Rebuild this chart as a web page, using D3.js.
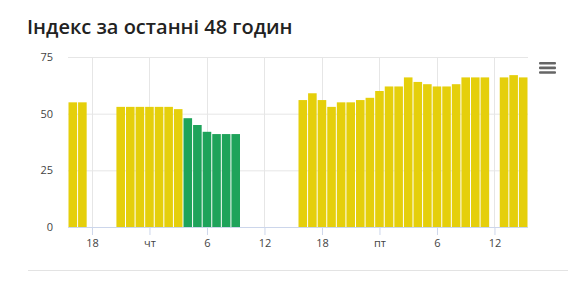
<!DOCTYPE html>
<html>
<head>
<meta charset="utf-8">
<script src="https://cdn.jsdelivr.net/npm/d3@7"></script>
<style>
  body { margin: 0; background: #fff; font-family: "Open Sans", sans-serif; }
  .title { font-weight: 600; font-size: 20px; fill: #222; }
  .tick text { font-family: "Open Sans", sans-serif; font-size: 11px; fill: #444; }
</style>
</head>
<body>
<div id="chart"></div>
<script>
// data
const startHour = new Date(2022, 0, 5, 16); // Wednesday 16:00, first bar
const values = [
  55, 55, null, null, null, 53, 53, 53, 53, 53, 53, 52,
  48, 45, 42, 41, 41, 41, null, null, null, null, null, null,
  56, 59, 56, 53, 55, 55, 56, 57, 60, 62, 62, 66,
  64, 63, 62, 62, 63, 66, 66, 66, null, 66, 67, 66
];
const yTicks = [0, 25, 50, 75];
const dayNames = ["нд", "пн", "вт", "ср", "чт", "пт", "сб"];
const threshold = 50;
const colors = { good: "#1ea35a", moderate: "#e5cf0b" };

//size
const width = 580;
const height = 289;
const margin = { top: 57, bottom: 62, left: 68, right: 52 };
const innerWidth = width - margin.left - margin.right;
const innerHeight = height - margin.top - margin.bottom;

const data = values.map((v, i) => ({
  time: d3.timeHour.offset(startHour, i),
  value: v,
}));

//scale
const xScale = d3
  .scaleTime()
  .domain([
    d3.timeMinute.offset(data[0].time, -30),
    d3.timeMinute.offset(data[data.length - 1].time, 30),
  ])
  .range([0, innerWidth]);

const slot = innerWidth / data.length;

const yScale = d3.scaleLinear().domain([0, 75]).range([innerHeight, 0]);

const svg = d3
  .select("#chart")
  .append("svg")
  .attr("width", width)
  .attr("height", height);

svg
  .append("text")
  .attr("class", "title")
  .attr("x", 27)
  .attr("y", 34)
  .text("Індекс за останні 48 годин");

const g = svg
  .append("g")
  .attr("transform", `translate(${margin.left},${margin.top})`);

// y grid + labels
g.append("g")
  .call(
    d3.axisLeft(yScale).tickValues(yTicks).tickSize(-innerWidth).tickPadding(15)
  )
  .call((a) => {
    a.select(".domain").remove();
    a.selectAll("line").attr("stroke", "#e6e6e6");
  });

// x grid
const xTicks = xScale.ticks(d3.timeHour.every(6));
g.append("g")
  .selectAll("line")
  .data(xTicks)
  .join("line")
  .attr("x1", (d) => Math.round(xScale(d)) + 0.5)
  .attr("x2", (d) => Math.round(xScale(d)) + 0.5)
  .attr("y1", 0)
  .attr("y2", innerHeight)
  .attr("stroke", "#e6e6e6");

// bars
g.append("g")
  .selectAll("rect")
  .data(data.filter((d) => d.value != null))
  .join("rect")
  .attr("x", (d) => xScale(d.time) - slot / 2 + 0.5)
  .attr("y", (d) => yScale(d.value))
  .attr("width", slot - 1)
  .attr("height", (d) => innerHeight - yScale(d.value))
  .attr("fill", (d) => (d.value <= threshold ? colors.good : colors.moderate));

// x axis
g.append("g")
  .attr("transform", `translate(0,${innerHeight})`)
  .call(
    d3
      .axisBottom(xScale)
      .tickValues(xTicks)
      .tickSize(8)
      .tickPadding(4)
      .tickFormat((d) =>
        d.getHours() === 0 ? dayNames[d.getDay()] : d.getHours()
      )
  )
  .call((a) => {
    a.select(".domain")
      .attr("stroke", "#ccd6eb")
      .attr("d", `M0,0.5H${innerWidth}`);
    a.selectAll("line").attr("stroke", "#ccd6eb");
  });

// menu icon
svg
  .append("g")
  .selectAll("rect")
  .data([0, 1, 2])
  .join("rect")
  .attr("x", 539)
  .attr("y", (d) => 62 + d * 4.6)
  .attr("width", 17)
  .attr("height", 2.6)
  .attr("rx", 1)
  .attr("fill", "#666");

// bottom separator
svg
  .append("line")
  .attr("x1", 28)
  .attr("x2", 568)
  .attr("y1", 270.5)
  .attr("y2", 270.5)
  .attr("stroke", "#e3e3e3");
</script>
</body>
</html>
